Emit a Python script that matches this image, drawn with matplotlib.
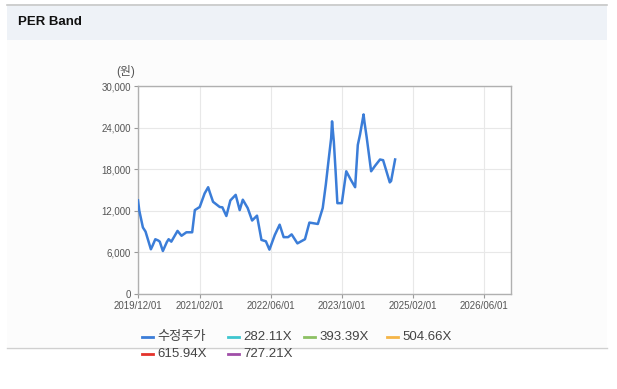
import matplotlib
matplotlib.use("Agg")
import matplotlib.pyplot as plt
from matplotlib.lines import Line2D
from matplotlib.patches import Rectangle

plt.rcParams['font.family'] = ['Liberation Sans', 'Noto Sans CJK KR', 'DejaVu Sans']

# ---- data (x = months since 2019/12/01, y = 원) ----
months = [0, 0.3, 1.1, 1.7, 2.9, 3.3, 3.9, 4.6, 4.9, 5.6, 6.5, 6.9, 7.5, 8.9, 9.8,
          10.9, 12.2, 12.8, 13.9, 15.0, 15.8, 16.2, 16.9, 18.4, 19.0, 19.9, 20.8,
          22.0, 22.9, 23.6, 24.7, 25.7, 26.8, 27.8, 28.8, 29.6, 30.8, 31.9, 32.8,
          33.8, 34.6, 35.9, 37.6, 38.6, 40.5, 41.6, 42.3, 42.9, 43.5, 43.7, 44.1,
          44.5, 44.9, 45.9, 46.9, 47.9, 48.9, 49.5, 50.0, 50.8, 51.0, 51.5, 52.5,
          53.4, 54.5, 55.2, 56.7, 57.0, 57.9]
price = [13500, 12000, 9600, 9000, 6450, 7000, 7900, 7700, 7550, 6200, 7500, 7900,
         7550, 9100, 8400, 8900, 8900, 12100, 12550, 14500, 15400, 14600, 13300,
         12550, 12500, 11250, 13500, 14300, 12100, 13600, 12400, 10600, 11300,
         7800, 7600, 6400, 8500, 10000, 8200, 8200, 8600, 7300, 7900, 10300,
         10100, 12400, 15800, 19200, 22500, 24900, 22000, 17700, 13100, 13100,
         17700, 16500, 15400, 21500, 23000, 25900, 24800, 22600, 17700, 18500,
         19400, 19300, 16100, 16300, 19400]

tick_months = [0, 14, 30, 46, 62, 78]
tick_labels = ['2019/12/01', '2021/02/01', '2022/06/01', '2023/10/01', '2025/02/01', '2026/06/01']
y_ticks = [0, 6000, 12000, 18000, 24000, 30000]

legend_names = ['수정주가', '282.11X', '393.39X', '504.66X', '615.94X', '727.21X']
legend_colors = ['#3b7dd8', '#3ec6cf', '#8cc063', '#f5b547', '#e4322b', '#a04ea8']

W, H = 617, 389
fig = plt.figure(figsize=(W / 100, H / 100), dpi=100)
fig.patch.set_facecolor('white')

def px(x, y):
    return x / W, 1 - y / H

# panel background
fig.add_artist(Rectangle((7 / W, 1 - 347 / H), 600 / W, 307 / H,
                         transform=fig.transFigure, facecolor='#fcfcfc', edgecolor='none', zorder=0))
# header band
fig.add_artist(Rectangle((7 / W, 1 - 40 / H), 600 / W, 36 / H,
                         transform=fig.transFigure, facecolor='#eef2f7', edgecolor='none', zorder=0))
fig.add_artist(Line2D([7 / W, 607 / W], [1 - 4.5 / H, 1 - 4.5 / H], transform=fig.transFigure,
                      color='#c8c8c8', lw=1.2))
fig.add_artist(Line2D([7 / W, 607 / W], [1 - 347.5 / H, 1 - 347.5 / H], transform=fig.transFigure,
                      color='#d0d0d0', lw=1.0))
fig.text(*px(18, 22), 'PER Band', fontsize=9.5, fontweight='bold', color='#111111',
         ha='left', va='center')

# axes
left, right, top, bottom = 138, 511, 86, 294
ax = fig.add_axes([left / W, 1 - bottom / H, (right - left) / W, (bottom - top) / H])
ax.set_facecolor('white')
ax.plot(months, price, color=legend_colors[0], lw=1.8, zorder=3)
ax.set_xlim(0, 84)
ax.set_ylim(0, 30000)
ax.set_xticks(tick_months)
ax.set_xticklabels(tick_labels)
ax.set_yticks(y_ticks)
ax.set_yticklabels([f'{v:,}' for v in y_ticks])
ax.grid(True, color='#e8e8e8', lw=0.8)
ax.set_axisbelow(True)
for s in ax.spines.values():
    s.set_color('#b0b0b0')
    s.set_linewidth(1.0)
ax.tick_params(axis='both', labelsize=7, colors='#555555', length=3, width=0.8, pad=2)
ax.tick_params(axis='both', color='#999999')

fig.text(*px(126, 71), '(원)', fontsize=8.5, color='#555555', ha='center', va='center')

# legend
rows = [[(0, 142, 337), (1, 228, 337), (2, 304, 337), (3, 387, 337)],
        [(4, 142, 354), (5, 228, 354)]]
for row in rows:
    for i, x0, y0 in row:
        fig.add_artist(Line2D([x0 / W, (x0 + 11) / W], [1 - y0 / H, 1 - y0 / H],
                              transform=fig.transFigure, color=legend_colors[i], lw=2.0))
        fig.text(*px(x0 + 15, y0), legend_names[i], fontsize=9.5, color='#444444',
                 ha='left', va='center')

fig.savefig('out.png', dpi=100)
